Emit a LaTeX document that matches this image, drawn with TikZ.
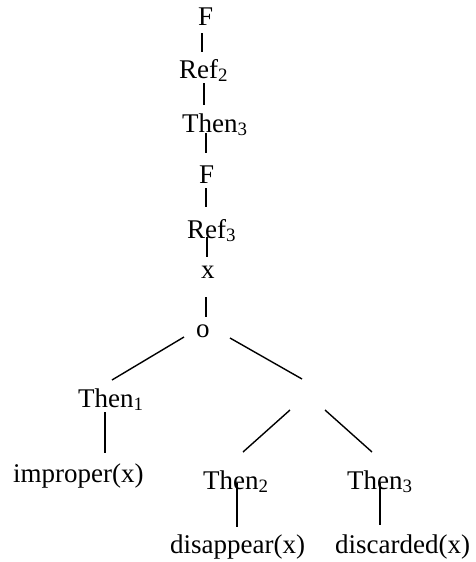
\documentclass[tikz,border=0pt]{standalone}
\usepackage{fontspec}
\setmainfont{Liberation Serif}
\begin{document}
\begin{tikzpicture}[x=1pt,y=-1pt,
  lab/.style={anchor=base west,inner sep=0pt,font=\fontsize{27}{30}\selectfont},
  edge/.style={line width=1.4pt}]
\useasboundingbox (0,0) rectangle (476,562);
% nodes
\node[lab] (f1) at (198,25) {F};
\node[lab] (ref2) at (179,78) {Ref\textsubscript{2}};
\node[lab] (then3a) at (182,132) {Then\textsubscript{3}};
\node[lab] (f2) at (199,183) {F};
\node[lab] (ref3) at (187,238) {Ref\textsubscript{3}};
\node[lab] (xv) at (201,278) {x};
\node[lab] (o) at (196,337) {o};
\node[lab] (then1) at (78,407) {Then\textsubscript{1}};
\node[lab] (impr) at (13,482) {improper(x)};
\node[lab] (then2) at (203,489) {Then\textsubscript{2}};
\node[lab] (then3b) at (347,489) {Then\textsubscript{3}};
\node[lab] (disap) at (170,553) {disappear(x)};
\node[lab] (disc) at (335,553) {discarded(x)};
% connector end points
\coordinate (a1) at (202,33);  \coordinate (b1) at (202,52);
\coordinate (a2) at (204,83);  \coordinate (b2) at (204,105);
\coordinate (a3) at (206,133); \coordinate (b3) at (206,153);
\coordinate (a4) at (206,188); \coordinate (b4) at (206,207);
\coordinate (a5) at (207,237); \coordinate (b5) at (207,257);
\coordinate (a6) at (206,297); \coordinate (b6) at (206,317);
\coordinate (a7) at (184,337); \coordinate (b7) at (112,380);
\coordinate (a8) at (230,338); \coordinate (b8) at (302,379);
\coordinate (a9) at (290,410); \coordinate (b9) at (243,452);
\coordinate (a10) at (325,410); \coordinate (b10) at (372,452);
\coordinate (a11) at (105,412); \coordinate (b11) at (105,453);
\coordinate (a12) at (237,483); \coordinate (b12) at (237,527);
\coordinate (a13) at (380,483); \coordinate (b13) at (380,525);
\foreach \i in {1,...,13} {\draw[edge] (a\i) -- (b\i);}
\end{tikzpicture}
\end{document}
